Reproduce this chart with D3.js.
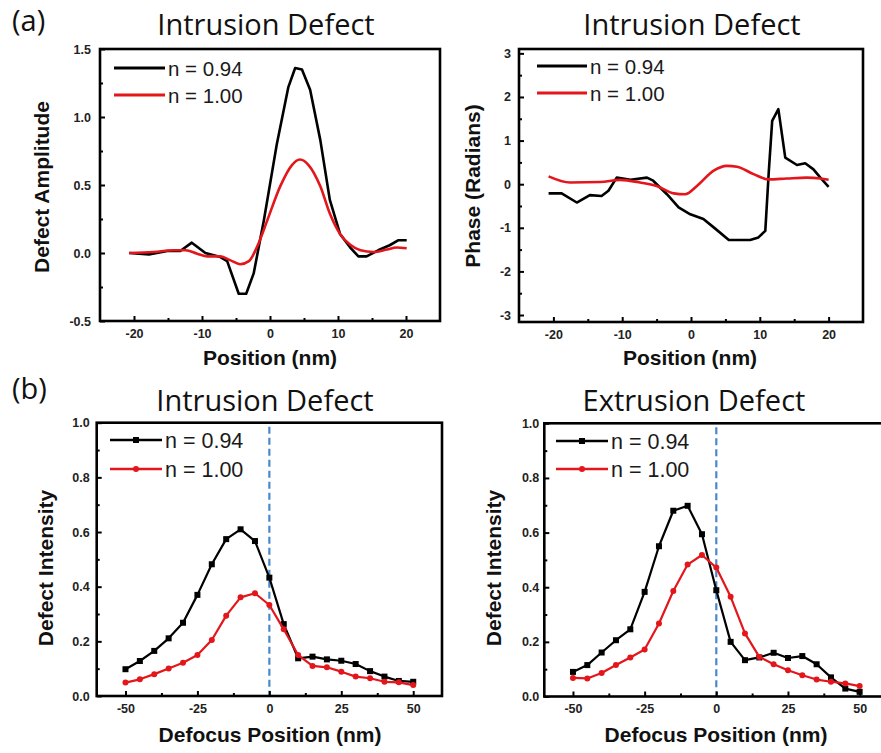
<!DOCTYPE html>
<html>
<head>
<meta charset="utf-8">
<script src="https://cdn.jsdelivr.net/npm/d3@7"></script>
<style>
  html, body { margin: 0; padding: 0; background: #fff; }
  svg { display: block; }
</style>
</head>
<body>
<svg id="chart" width="881" height="753"></svg>
<script>
// ---------------- DATA ----------------
const seriesNames = ["n = 0.94", "n = 1.00"];

// (a) left: Defect Amplitude vs Position (nm)
const ampX094 = [-20.7,-17.8,-15.1,-13.2,-11.5,-9.5,-7.3,-6.3,-4.6,-3.5,-2.4,-0.9,1.0,2.7,3.7,4.7,5.9,7.4,8.8,10.3,11.8,13.0,14.2,15.9,17.6,18.9,20.1];
const ampY094 = [0.0,-0.01,0.015,0.015,0.076,0.0,-0.03,-0.06,-0.30,-0.30,-0.15,0.24,0.80,1.22,1.36,1.35,1.20,0.83,0.39,0.14,0.04,-0.025,-0.025,0.02,0.057,0.094,0.094];
const ampX100 = [-20.7,-17.1,-14.2,-12.4,-10.7,-9.2,-7.3,-5.8,-4.4,-3.1,-1.9,-0.4,1.5,3.2,4.4,5.7,7.4,8.8,10.3,11.8,13.3,15.2,17.2,18.6,20.1];
const ampY100 = [0.0,0.007,0.02,0.02,-0.005,-0.025,-0.025,-0.054,-0.083,-0.06,0.045,0.24,0.49,0.645,0.687,0.645,0.49,0.29,0.14,0.06,0.02,0.007,0.025,0.04,0.035];

// (a) right: Phase (Radians) vs Position (nm)
const phX094 = [-20.7,-18.8,-16.6,-14.7,-13.0,-12.0,-10.8,-8.8,-6.4,-5.5,-3.5,-1.8,-0.1,1.8,3.3,5.5,8.6,9.8,10.8,11.3,11.8,12.7,13.7,15.4,16.6,17.8,18.8,20.0];
const phY094 = [-0.21,-0.21,-0.42,-0.25,-0.27,-0.15,0.15,0.10,0.15,0.08,-0.23,-0.53,-0.69,-0.80,-0.99,-1.28,-1.28,-1.22,-1.07,0.27,1.45,1.72,0.61,0.44,0.48,0.34,0.15,-0.06];
const phX100 = [-20.7,-17.6,-13.2,-10.3,-7.4,-5.0,-2.5,-0.85,0.86,3.3,5.2,6.7,9.1,11.3,13.9,16.8,18.8,20.0];
const phY100 = [0.18,0.04,0.05,0.10,0.04,-0.04,-0.21,-0.23,-0.04,0.31,0.42,0.40,0.23,0.11,0.13,0.15,0.13,0.10];

// (b): Defect Intensity vs Defocus Position (nm)
const defocus = [-50,-45,-40,-35,-30,-25,-20,-15,-10,-5,0,5,10,15,20,25,30,35,40,45,50];
const intr094 = [0.098,0.128,0.165,0.211,0.268,0.37,0.482,0.574,0.61,0.567,0.433,0.263,0.138,0.144,0.134,0.129,0.117,0.091,0.071,0.055,0.052];
const intr100 = [0.049,0.061,0.080,0.101,0.122,0.15,0.205,0.294,0.361,0.376,0.333,0.244,0.15,0.11,0.105,0.089,0.071,0.065,0.052,0.050,0.040];
const extr094 = [0.090,0.115,0.161,0.206,0.246,0.383,0.55,0.68,0.698,0.594,0.389,0.20,0.133,0.143,0.16,0.141,0.148,0.118,0.07,0.029,0.017];
const extr100 = [0.068,0.066,0.086,0.115,0.143,0.172,0.267,0.386,0.483,0.518,0.472,0.365,0.231,0.145,0.118,0.096,0.078,0.062,0.054,0.048,0.038];

// ticks
const posTicks = [-20,-10,0,10,20];
const posMinor = [-15,-5,5,15];
const ampTicks = [-0.5,0.0,0.5,1.0,1.5];
const ampMinor = [-0.25,0.25,0.75,1.25];
const phTicks = [-3,-2,-1,0,1,2,3];
const phMinor = [-2.5,-1.5,-0.5,0.5,1.5,2.5];
const defTicks = [-50,-25,0,25,50];
const defMinor = [-37.5,-12.5,12.5,37.5];
const intTicks = [0.0,0.2,0.4,0.6,0.8,1.0];
const intMinor = [0.1,0.3,0.5,0.7,0.9];

// ---------------- DRAW ----------------
const svg = d3.select("#chart");
const BLACK = "#000", RED = "#e3161b", BLUE = "#4a88cc";
const tickFont = "'Liberation Sans', Arial, sans-serif";
const locale = d3.formatLocale({decimal: ".", thousands: ",", grouping: [3], currency: ["", ""], minus: "-"});

function zip(xs, ys) { return xs.map((x, i) => ({x, y: ys[i]})); }

function panel(cfg) {
  const x = d3.scaleLinear().domain(cfg.xDomain).range(cfg.xRange);
  const y = d3.scaleLinear().domain(cfg.yDomain).range(cfg.yRange);
  const g = svg.append("g");

  // title
  svg.append("text").attr("x", cfg.titleX).attr("y", cfg.titleY)
    .attr("text-anchor", "middle")
    .style("font-family", "'Open Sans', sans-serif").style("font-size", "29px")
    .attr("fill", "#111").text(cfg.title);

  // dashed zero line
  if (cfg.zeroLine) {
    g.append("line").attr("x1", x(0)).attr("x2", x(0))
      .attr("y1", cfg.yRange[1] + 4).attr("y2", cfg.yRange[0])
      .attr("stroke", BLUE).attr("stroke-width", 2.2).attr("stroke-dasharray", "7,4");
  }

  // series
  cfg.series.forEach(s => {
    const data = zip(s.x, s.y);
    const line = d3.line().x(d => x(d.x)).y(d => y(d.y))
      .curve(s.smooth ? d3.curveMonotoneX : d3.curveLinear);
    g.append("path").datum(data).attr("d", line)
      .attr("fill", "none").attr("stroke", s.color)
      .attr("stroke-width", cfg.lineWidth).attr("stroke-linejoin", "round");
    if (s.marker === "square") {
      g.selectAll(null).data(data).enter().append("rect")
        .attr("x", d => x(d.x) - 3).attr("y", d => y(d.y) - 3)
        .attr("width", 6).attr("height", 6).attr("fill", s.color);
    } else if (s.marker === "circle") {
      g.selectAll(null).data(data).enter().append("circle")
        .attr("cx", d => x(d.x)).attr("cy", d => y(d.y)).attr("r", 3)
        .attr("fill", s.color);
    }
  });

  // axes
  const bottom = cfg.yRange[0], left = cfg.xRange[0];
  const xa = g.append("g").attr("transform", `translate(0,${bottom})`)
    .call(d3.axisBottom(x).tickValues(cfg.xTicks).tickSize(-5).tickPadding(8)
      .tickFormat(cfg.xFmt));
  const xm = g.append("g").attr("transform", `translate(0,${bottom})`)
    .call(d3.axisBottom(x).tickValues(cfg.xMinor).tickSize(-3).tickFormat(""));
  const ya = g.append("g").attr("transform", `translate(${left},0)`)
    .call(d3.axisLeft(y).tickValues(cfg.yTicks).tickSize(-5).tickPadding(cfg.yPad)
      .tickFormat(cfg.yFmt));
  const ym = g.append("g").attr("transform", `translate(${left},0)`)
    .call(d3.axisLeft(y).tickValues(cfg.yMinor).tickSize(-3).tickFormat(""));
  [xa, xm, ya, ym].forEach(a => {
    a.select(".domain").remove();
    a.selectAll(".tick line").attr("stroke", "#000").attr("stroke-width", 2);
    a.selectAll("text").style("font-family", tickFont).style("font-size", "12.5px")
      .style("font-weight", "bold").attr("fill", "#222");
  });

  // frame
  g.append("rect").attr("x", cfg.xRange[0]).attr("y", cfg.yRange[1])
    .attr("width", cfg.xRange[1] - cfg.xRange[0]).attr("height", cfg.yRange[0] - cfg.yRange[1])
    .attr("fill", "none").attr("stroke", "#000").attr("stroke-width", 2.6);

  // axis titles
  svg.append("text").attr("x", cfg.xLabelX).attr("y", cfg.xLabelY).attr("text-anchor", "middle")
    .style("font-family", tickFont).style("font-size", "21px").style("font-weight", "bold")
    .attr("fill", "#111").text(cfg.xLabel);
  svg.append("text").attr("transform", `translate(${cfg.yLabelX},${cfg.yLabelY}) rotate(-90)`)
    .attr("text-anchor", "middle")
    .style("font-family", tickFont).style("font-size", "21px").style("font-weight", "bold")
    .attr("fill", "#111").text(cfg.yLabel);

  // legend
  cfg.series.forEach((s, i) => {
    const ly = cfg.legY[i];
    g.append("line").attr("x1", cfg.legX[0]).attr("x2", cfg.legX[1])
      .attr("y1", ly).attr("y2", ly).attr("stroke", s.color).attr("stroke-width", cfg.lineWidth + 0.4);
    const mx = (cfg.legX[0] + cfg.legX[1]) / 2;
    if (s.marker === "square") {
      g.append("rect").attr("x", mx - 3).attr("y", ly - 3).attr("width", 6).attr("height", 6).attr("fill", s.color);
    } else if (s.marker === "circle") {
      g.append("circle").attr("cx", mx).attr("cy", ly).attr("r", 3).attr("fill", s.color);
    }
    g.append("text").attr("x", cfg.legX[1] + 3).attr("y", ly + 7.5)
      .style("font-family", tickFont).style("font-size", cfg.legFont + "px")
      .attr("fill", "#1a1a1a").text(seriesNames[i]);
  });
}

const f1 = locale.format(".1f"), f0 = locale.format("d");

panel({
  title: "Intrusion Defect", titleX: 266, titleY: 35,
  xDomain: [-25, 25], xRange: [100, 440], yDomain: [-0.5, 1.5], yRange: [321, 49],
  xTicks: posTicks, xMinor: posMinor, yTicks: ampTicks, yMinor: ampMinor,
  xFmt: f0, yFmt: f1, yPad: 9, lineWidth: 2.6,
  xLabel: "Position (nm)", xLabelX: 270, xLabelY: 365,
  yLabel: "Defect Amplitude", yLabelX: 49, yLabelY: 187,
  legX: [114, 165], legY: [68, 95], legFont: 20.5,
  series: [
    {x: ampX094, y: ampY094, color: BLACK, smooth: false},
    {x: ampX100, y: ampY100, color: RED, smooth: true}
  ]
});

panel({
  title: "Intrusion Defect", titleX: 692, titleY: 35,
  xDomain: [-25, 25], xRange: [519, 863], yDomain: [-3.16, 3.1], yRange: [322, 49],
  xTicks: posTicks, xMinor: posMinor, yTicks: phTicks, yMinor: phMinor,
  xFmt: f0, yFmt: f0, yPad: 8, lineWidth: 2.6,
  xLabel: "Position (nm)", xLabelX: 690, xLabelY: 365,
  yLabel: "Phase (Radians)", yLabelX: 480, yLabelY: 186,
  legX: [537, 587], legY: [66, 93], legFont: 20.5,
  series: [
    {x: phX094, y: phY094, color: BLACK, smooth: false},
    {x: phX100, y: phY100, color: RED, smooth: true}
  ]
});

panel({
  title: "Intrusion Defect", titleX: 265, titleY: 411,
  xDomain: [-60, 60], xRange: [96.7, 442], yDomain: [0, 1], yRange: [696, 422.7],
  xTicks: defTicks, xMinor: defMinor, yTicks: intTicks, yMinor: intMinor,
  xFmt: f0, yFmt: f1, yPad: 7, lineWidth: 2.2, zeroLine: true,
  xLabel: "Defocus Position (nm)", xLabelX: 270, xLabelY: 742,
  yLabel: "Defect Intensity", yLabelX: 53, yLabelY: 568,
  legX: [110, 162], legY: [440, 469], legFont: 21.5,
  series: [
    {x: defocus, y: intr094, color: BLACK, marker: "square"},
    {x: defocus, y: intr100, color: RED, marker: "circle"}
  ]
});

panel({
  title: "Extrusion Defect", titleX: 694, titleY: 411,
  xDomain: [-60, 60], xRange: [544.3, 888.3], yDomain: [0, 1], yRange: [696.5, 423.3],
  xTicks: defTicks, xMinor: defMinor, yTicks: intTicks, yMinor: intMinor,
  xFmt: f0, yFmt: f1, yPad: 5, lineWidth: 2.2, zeroLine: true,
  xLabel: "Defocus Position (nm)", xLabelX: 716, xLabelY: 742,
  yLabel: "Defect Intensity", yLabelX: 501, yLabelY: 568,
  legX: [556, 608], legY: [441, 469], legFont: 21.5,
  series: [
    {x: defocus, y: extr094, color: BLACK, marker: "square"},
    {x: defocus, y: extr100, color: RED, marker: "circle"}
  ]
});

// panel labels
svg.append("text").attr("x", 12).attr("y", 31)
  .style("font-family", "'Open Sans', sans-serif").style("font-size", "29px")
  .attr("fill", "#111").text("(a)");
svg.append("text").attr("x", 12).attr("y", 399)
  .style("font-family", "'Open Sans', sans-serif").style("font-size", "29px")
  .attr("fill", "#111").text("(b)");
</script>
</body>
</html>
